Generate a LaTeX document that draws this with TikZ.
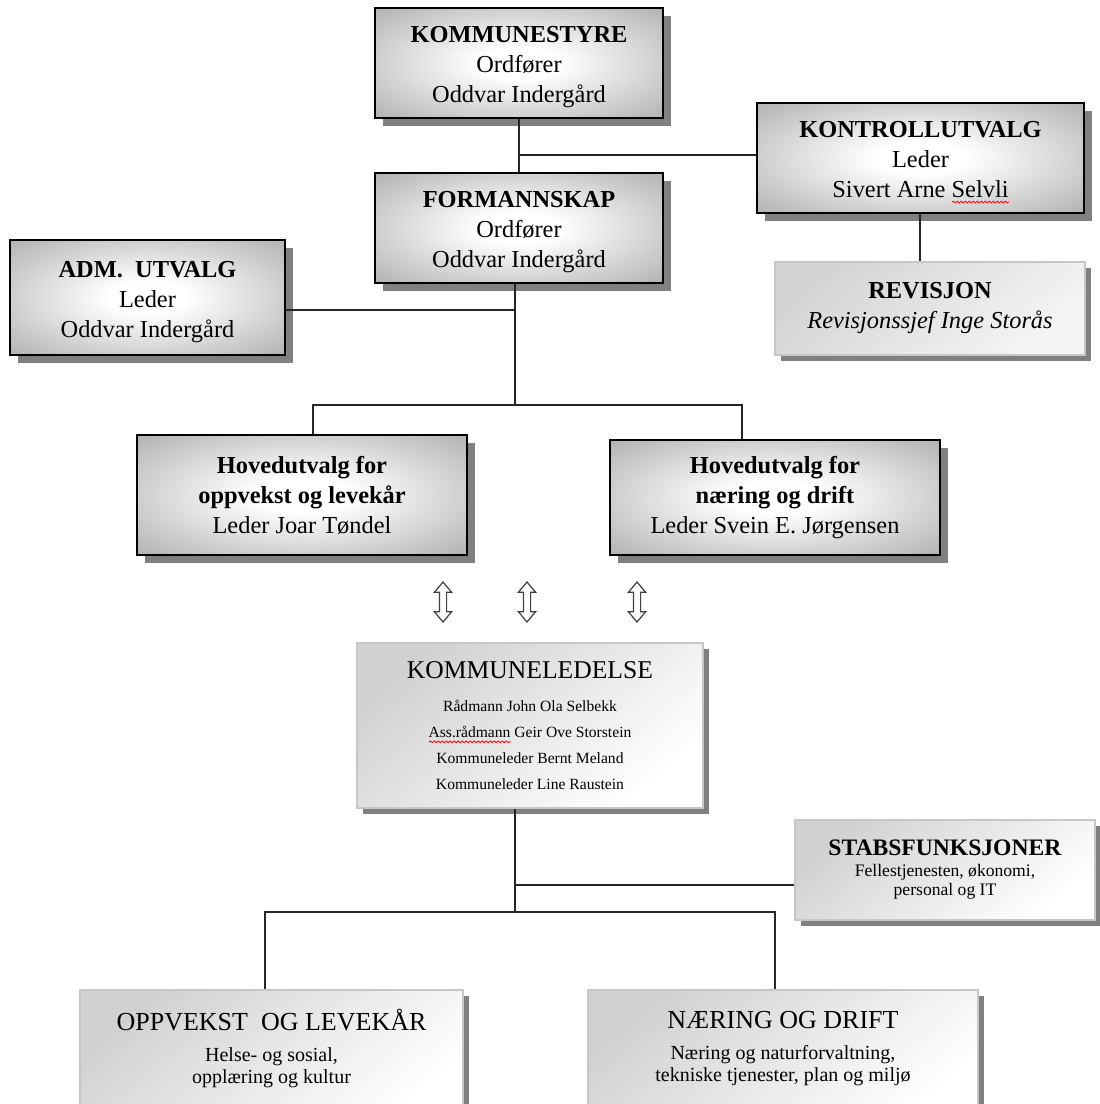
\documentclass[tikz,border=0pt]{standalone}
\usepackage{fontspec}
\setmainfont{Liberation Serif}
\usetikzlibrary{positioning, shadows, shapes.arrows, decorations.pathmorphing}
\pgfdeclareradialshading{boardglow}{\pgfpoint{0bp}{0bp}}{%
  color(0bp)=(white); color(7bp)=(white); color(38bp)=(black!33); color(50bp)=(black!38)}
\tikzset{
  board/.style   = {draw=black, line width=1pt, shade, shading=boardglow,
                    drop shadow={shadow xshift=4pt, shadow yshift=-4pt,
                                 fill=black!50, opacity=1},
                    align=center, inner sep=0pt,
                    font=\fontsize{12.2}{15}\selectfont},
  office/.style  = {draw=black!22, line width=0.6pt, top color=black!18,
                    bottom color=white, shading angle=40,
                    drop shadow={shadow xshift=3pt, shadow yshift=-3pt,
                                 fill=black!50, opacity=1},
                    align=center, inner sep=0pt},
  audit/.style   = {office, top color=black!17, bottom color=black!4,
                    shading angle=40},
  link/.style    = {line width=1pt, black!85},
  twoway/.style  = {double arrow, draw=black!75, fill=white, line width=0.6pt,
                    rotate=90, minimum height=20pt, minimum width=8pt,
                    inner sep=1.5pt, double arrow head extend=2.5pt,
                    double arrow tip angle=80},
}
% extra room above the first line of a board
\newcommand{\topgap}{\rule{0pt}{12.5pt}}
% extra room below the last line (boxes cut by the page edge)
\newcommand{\bottomgap}{\rule[-10.5pt]{0pt}{10.5pt}}
% red spell-check underline
\newcommand{\spellmark}[1]{\setbox0=\hbox{#1}%
  \rlap{\begin{pgfpicture}\pgfsetbaseline{0pt}%
    \pgfkeys{/pgf/decoration/.cd, amplitude=0.45pt, segment length=2pt}%
    \pgfsetlinewidth{0.4pt}\pgfsetstrokecolor{red}%
    \pgfdecoratepath{snake}{\pgfpathmoveto{\pgfpoint{0pt}{-2.2pt}}%
      \pgfpathlineto{\pgfpoint{\wd0}{-2.2pt}}}%
    \pgfusepath{stroke}\end{pgfpicture}}\box0\relax}

\begin{document}
\begin{tikzpicture}[x=0.5pt, y=-0.5pt]
\useasboundingbox[fill=white] (0,0) rectangle (1099,1104);

% ===== political level =====
\node[board, minimum width=144pt, minimum height=55pt] (ks) at (519,63)
  {\topgap\textbf{KOMMUNESTYRE}\\Ordfører\\Oddvar Indergård};
\node[board, minimum width=163.5pt, minimum height=55pt] (kontroll) at (920.5,158)
  {\topgap\textbf{KONTROLLUTVALG}\\Leder\\Sivert Arne \spellmark{Selvli}};
\node[board, minimum width=144pt, minimum height=55pt] (fsk) at (519,228)
  {\topgap\textbf{FORMANNSKAP}\\Ordfører\\Oddvar Indergård};
\node[board, minimum width=137.5pt, minimum height=57.5pt] (adm) at (147.5,297.5)
  {\topgap\textbf{ADM.\ \ UTVALG}\\Leder\\Oddvar Indergård};
\node[audit, minimum width=155pt, minimum height=46.5pt,
      font=\fontsize{12.2}{15}\selectfont] (rev) at (930,308.5)
  {\textbf{REVISJON}\\\textit{Revisjonssjef Inge Storås}};

% ===== committees =====
\node[board, minimum width=165pt, minimum height=60pt] (hvl) at (302,495)
  {\textbf{Hovedutvalg for}\\\textbf{oppvekst og levekår}\\Leder Joar Tøndel};
\node[board, minimum width=165pt, minimum height=57.5pt] (hvr) at (775,497.5)
  {\textbf{Hovedutvalg for}\\\textbf{næring og drift}\\Leder Svein E. Jørgensen};

\node[twoway] (arr1) at (443,602) {};
\node[twoway] (arr2) at (527,602) {};
\node[twoway] (arr3) at (637,602) {};

% ===== administration =====
\node[office, minimum width=173pt, minimum height=82.5pt,
      font=\fontsize{7.8}{13}\selectfont] (kl) at (530,725.5)
  {{\fontsize{12.8}{15}\selectfont KOMMUNELEDELSE}\\[3.5pt]
   Rådmann John Ola Selbekk\\
   \spellmark{Ass.rådmann} Geir Ove Storstein\\
   Kommuneleder Bernt Meland\\
   Kommuneleder Line Raustein};
\node[office, minimum width=150pt, minimum height=50pt,
      font=\fontsize{8.8}{9.5}\selectfont] (stab) at (945,870)
  {{\fontsize{11.8}{14}\selectfont\textbf{STABSFUNKSJONER}}\\[1pt]
   Fellestjenesten, økonomi,\\personal og IT};
\node[office, minimum width=191.5pt, minimum height=67pt,
      font=\fontsize{10}{11}\selectfont] (opp) at (271.5,1057)
  {{\fontsize{13}{15}\selectfont OPPVEKST\ \ OG LEVEKÅR}\\[4.5pt]
   Helse- og sosial,\\opplæring og kultur\bottomgap};
\node[office, minimum width=195pt, minimum height=67pt,
      font=\fontsize{10}{11}\selectfont] (nd) at (783,1057)
  {{\fontsize{13}{15}\selectfont NÆRING OG DRIFT}\\[4.5pt]
   Næring og naturforvaltning,\\tekniske tjenester, plan og miljø\bottomgap};

% ===== connectors =====
\coordinate (j1) at (519,155);
\coordinate (j2) at (515,310);
\coordinate (j3) at (515,405);
\coordinate (hl) at (313,405);
\coordinate (hr) at (742,405);
\coordinate (j4) at (515,885);
\coordinate (j5) at (515,912);
\coordinate (bl) at (265,912);
\coordinate (br) at (775,912);

\draw[link] (ks.south) -- (fsk.north);
\draw[link] (j1) -- (j1 -| kontroll.west);
\draw[link] (kontroll.south -| rev.north) ++(-10,0) coordinate (kd) -- (kd |- rev.north);
\draw[link] (j3 |- fsk.south) -- (j3);
\draw[link] (j2 -| adm.east) -- (j2);
\draw[link] (hl |- hvl.north) -- (hl) -- (hr) -- (hr |- hvr.north);
\draw[link] (j5 |- kl.south) -- (j5);
\draw[link] (j4) -- (j4 -| stab.west);
\draw[link] (bl |- opp.north) -- (bl) -- (br) -- (br |- nd.north);

\end{tikzpicture}
\end{document}
